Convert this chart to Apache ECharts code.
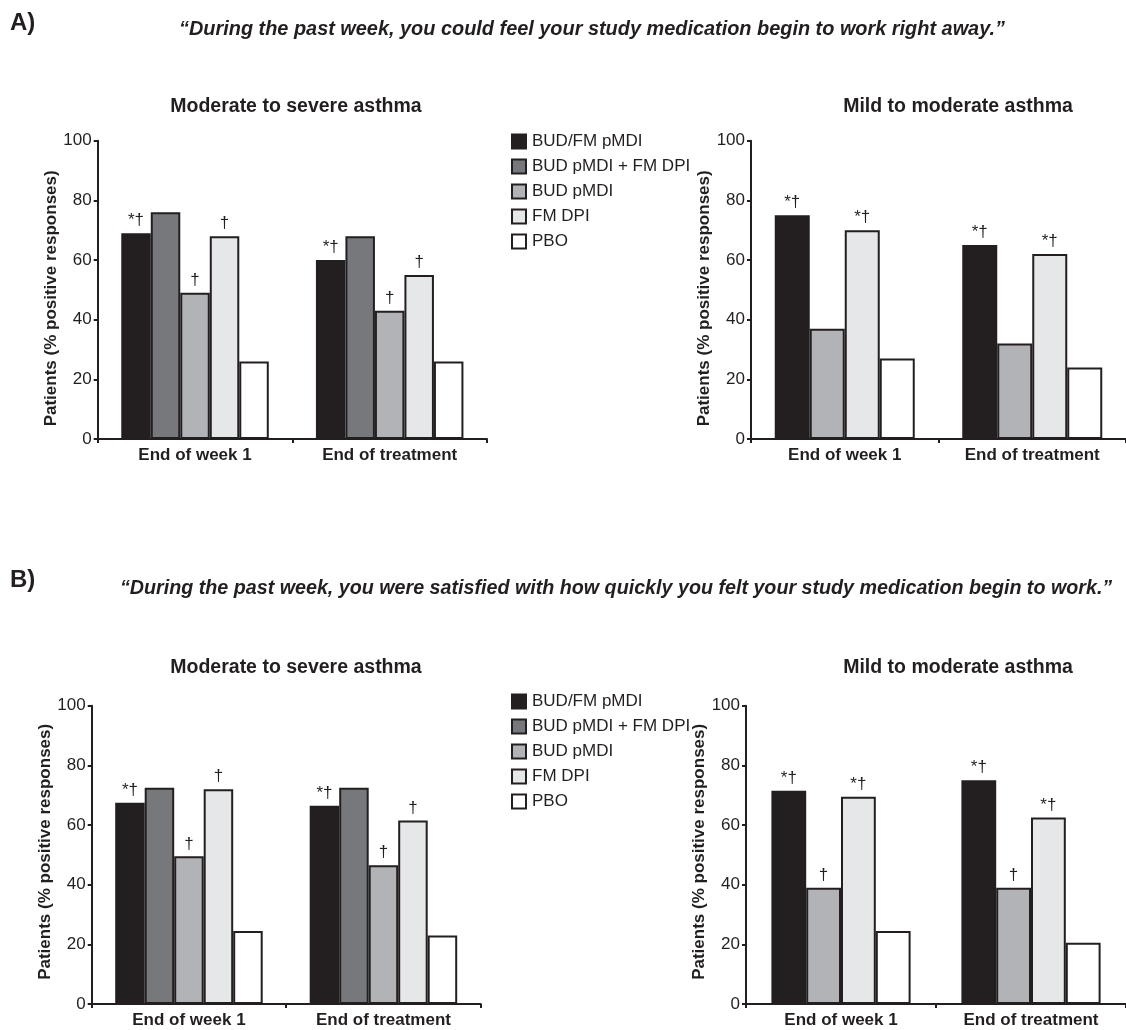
<!DOCTYPE html>
<html><head><meta charset="utf-8">
<script src="https://cdn.jsdelivr.net/npm/echarts@6/dist/echarts.min.js"></script>
<style>html,body{margin:0;padding:0;background:#fff}#c{width:1126px;height:1030px}</style>
</head><body><div id="c"></div>
<script>
const categories = ['End of week 1', 'End of treatment'];
const treatments = ['BUD/FM pMDI', 'BUD pMDI + FM DPI', 'BUD pMDI', 'FM DPI', 'PBO'];
const yTickMin = 0, yTickMax = 100, yTickStep = 20;

// A) moderate to severe asthma
const aSevBudFm   = [69, 60];
const aSevBudPlus = [76, 68];
const aSevBud     = [49, 43];
const aSevFm      = [68, 55];
const aSevPbo     = [26, 26];
// A) mild to moderate asthma
const aMildBudFm  = [75, 65];
const aMildBud    = [37, 32];
const aMildFm     = [70, 62];
const aMildPbo    = [27, 24];
// B) moderate to severe asthma
const bSevBudFm   = [67.5, 66.5];
const bSevBudPlus = [72.5, 72.5];
const bSevBud     = [49.5, 46.5];
const bSevFm      = [72, 61.5];
const bSevPbo     = [24.5, 23];
// B) mild to moderate asthma
const bMildBudFm  = [71.5, 75];
const bMildBud    = [39, 39];
const bMildFm     = [69.5, 62.5];
const bMildPbo    = [24.5, 20.5];

// significance marks
const markSevBudFm = ['*†', '*†'];
const markSevBud   = ['†', '†'];
const markSevFm    = ['†', '†'];
const markAMildBudFm = ['*†', '*†'];
const markAMildBud   = ['', ''];
const markAMildFm    = ['*†', '*†'];
const markBMildBudFm = ['*†', '*†'];
const markBMildBud   = ['†', '†'];
const markBMildFm    = ['*†', '*†'];
const noMark = ['', ''];

const colors = {
  'BUD/FM pMDI': '#231f20',
  'BUD pMDI + FM DPI': '#77787b',
  'BUD pMDI': '#b1b3b6',
  'FM DPI': '#e6e7e8',
  'PBO': '#ffffff'
};
const ink = '#231f20';
const FONT = '"Liberation Sans", Arial, Helvetica, sans-serif';

function panelSeries(gi, rows, bw) {
  return rows.map(([name, data, marks]) => ({
    type: 'bar', name, data, xAxisIndex: gi, yAxisIndex: gi,
    barWidth: bw, barGap: '0%',
    itemStyle: { color: colors[name], borderColor: ink, borderWidth: 2 },
    label: {
      show: true, position: 'top', distance: 4,
      fontFamily: FONT, fontSize: 17, color: ink,
      formatter: p => marks[p.dataIndex]
    },
    emphasis: { disabled: true },
    animation: false
  }));
}

const grids = [
  { left: 97.7, top: 140.7, width: 389.3, height: 298.3 },
  { left: 751, top: 140.7, width: 391.4, height: 298.3 },
  { left: 91.7, top: 705.7, width: 389, height: 298.3 },
  { left: 746, top: 705.7, width: 389.4, height: 298.3 }
];
const nameGaps = [36, 30, 30.5, 30.5];
const namePads = [[0, 17, 0, 0], [0, 17, 0, 0], [0, 0, 0, 6], [0, 0, 0, 6]];

const xAxes = grids.map((g, i) => ({
  type: 'category', gridIndex: i, data: categories,
  axisLine: { lineStyle: { color: ink, width: 2 } },
  axisTick: { show: true, length: 4, lineStyle: { color: ink, width: 2 } },
  axisLabel: { fontFamily: FONT, fontSize: 17, fontWeight: 'bold', color: ink, margin: 8 }
}));
const yAxes = grids.map((g, i) => ({
  type: 'value', gridIndex: i, min: yTickMin, max: yTickMax, interval: yTickStep,
  name: 'Patients (% positive responses)', nameLocation: 'middle', nameGap: nameGaps[i],
  nameTextStyle: { fontFamily: FONT, fontSize: 17, fontWeight: 'bold', color: ink, padding: namePads[i] },
  axisLine: { show: true, lineStyle: { color: ink, width: 2 } },
  axisTick: { show: true, length: 4, lineStyle: { color: ink, width: 2 } },
  axisLabel: { fontFamily: FONT, fontSize: 17, color: ink, margin: 6 },
  splitLine: { show: false }
}));

const series = [].concat(
  panelSeries(0, [
    ['BUD/FM pMDI', aSevBudFm, markSevBudFm],
    ['BUD pMDI + FM DPI', aSevBudPlus, noMark],
    ['BUD pMDI', aSevBud, markSevBud],
    ['FM DPI', aSevFm, markSevFm],
    ['PBO', aSevPbo, noMark]
  ], 29.5),
  panelSeries(1, [
    ['BUD/FM pMDI', aMildBudFm, markAMildBudFm],
    ['BUD pMDI', aMildBud, markAMildBud],
    ['FM DPI', aMildFm, markAMildFm],
    ['PBO', aMildPbo, noMark]
  ], 35),
  panelSeries(2, [
    ['BUD/FM pMDI', bSevBudFm, markSevBudFm],
    ['BUD pMDI + FM DPI', bSevBudPlus, noMark],
    ['BUD pMDI', bSevBud, markSevBud],
    ['FM DPI', bSevFm, markSevFm],
    ['PBO', bSevPbo, noMark]
  ], 29.5),
  panelSeries(3, [
    ['BUD/FM pMDI', bMildBudFm, markBMildBudFm],
    ['BUD pMDI', bMildBud, markBMildBud],
    ['FM DPI', bMildFm, markBMildFm],
    ['PBO', bMildPbo, noMark]
  ], 34.8)
);

function legendAt(top) {
  return {
    orient: 'vertical', left: 506, top, data: treatments, icon: 'rect',
    itemWidth: 14, itemHeight: 14, itemGap: 8, selectedMode: false,
    itemStyle: { borderColor: ink, borderWidth: 2 },
    textStyle: { fontFamily: FONT, fontSize: 17, color: ink, padding: [0, 0, 0, 1] }
  };
}

function txt(text, x, y, font, align) {
  return { type: 'text', x, y, silent: true,
    style: { text, font, fill: ink, textAlign: align || 'left', textVerticalAlign: 'middle' } };
}
const titleFont = 'bold 19.5px ' + FONT;
const panelFont = 'bold 24px ' + FONT;
const graphics = [
  txt('A)', 10, 23, panelFont),
  txt('“During the past week, you could feel your study medication begin to work right away.”', 179, 30, 'italic bold 19.9px ' + FONT),
  txt('B)', 10, 580, panelFont),
  txt('“During the past week, you were satisfied with how quickly you felt your study medication begin to work.”', 120, 589, 'italic bold 19.7px ' + FONT),
  txt('Moderate to severe asthma', 296, 107, titleFont, 'center'),
  txt('Mild to moderate asthma', 958, 107, titleFont, 'center'),
  txt('Moderate to severe asthma', 296, 668, titleFont, 'center'),
  txt('Mild to moderate asthma', 958, 668, titleFont, 'center')
];

const chart = echarts.init(document.getElementById('c'), null, { renderer: 'canvas' });
chart.setOption({
  backgroundColor: '#ffffff',
  animation: false,
  grid: grids,
  xAxis: xAxes,
  yAxis: yAxes,
  legend: [legendAt(128), legendAt(688)],
  series,
  graphic: graphics
});
</script></body></html>
